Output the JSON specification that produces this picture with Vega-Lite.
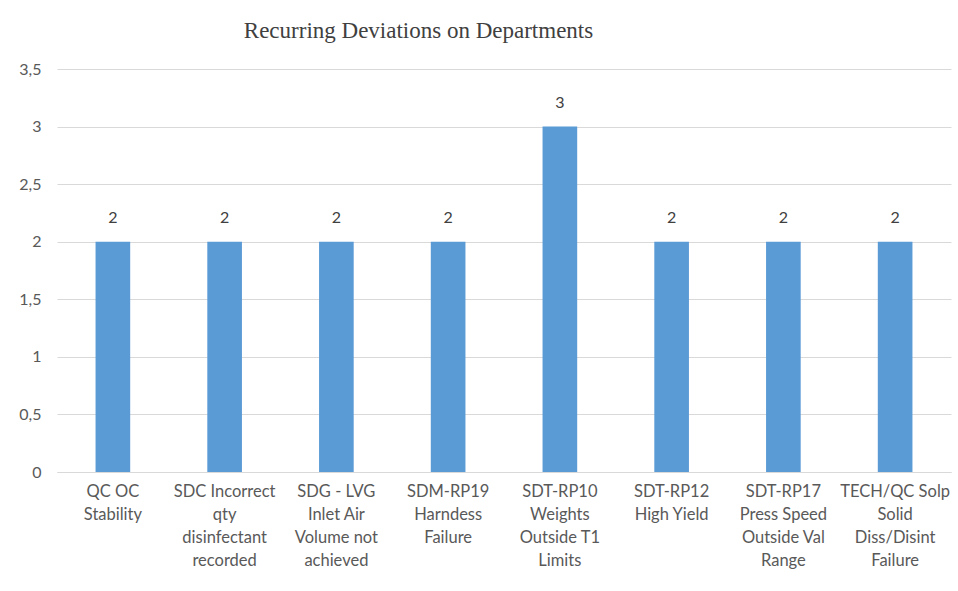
{
  "$schema": "https://vega.github.io/schema/vega-lite/v6.json",
  "width": 894,
  "height": 403,
  "autosize": {"type": "none"},
  "padding": {"left": 57, "top": 69, "right": 7, "bottom": 119},
  "background": "white",
  "title": {
    "text": "Recurring Deviations on Departments",
    "font": "Liberation Serif",
    "fontSize": 23,
    "fontWeight": "normal",
    "color": "#404040",
    "anchor": "start",
    "dx": 225,
    "offset": 18
  },
  "data": {
    "values": [
      {"cat": "QC OC|Stability", "count": 2},
      {"cat": "SDC Incorrect|qty|disinfectant|recorded", "count": 2},
      {"cat": "SDG - LVG|Inlet Air|Volume not|achieved", "count": 2},
      {"cat": "SDM-RP19|Harndess|Failure", "count": 2},
      {"cat": "SDT-RP10|Weights|Outside T1|Limits", "count": 3},
      {"cat": "SDT-RP12|High Yield", "count": 2},
      {"cat": "SDT-RP17|Press Speed|Outside Val|Range", "count": 2},
      {"cat": "TECH/QC Solp|Solid|Diss/Disint|Failure", "count": 2}
    ]
  },
  "encoding": {
    "x": {
      "field": "cat",
      "type": "nominal",
      "sort": null,
      "scale": {"paddingInner": 0.69, "paddingOuter": 0.345},
      "axis": {
        "title": null,
        "labelAngle": 0,
        "labelExpr": "split(datum.value, '|')",
        "labelFont": "Lato",
        "labelFontSize": 16.5,
        "labelColor": "#595959",
        "labelLineHeight": 23,
        "labelPadding": 11,
        "labelBaseline": "top",
        "ticks": false,
        "domainColor": "#d9d9d9",
        "domainWidth": 1
      }
    },
    "y": {
      "field": "count",
      "type": "quantitative",
      "scale": {"domain": [0, 3.5], "nice": false},
      "axis": {
        "title": null,
        "values": [0, 0.5, 1, 1.5, 2, 2.5, 3, 3.5],
        "labelExpr": "replace(format(datum.value, '~g'), '.', ',')",
        "labelFont": "Lato",
        "labelFontSize": 16,
        "labelColor": "#595959",
        "labelPadding": 16,
        "ticks": false,
        "domain": false,
        "gridColor": "#d9d9d9",
        "gridWidth": 1
      }
    }
  },
  "layer": [
    {"mark": {"type": "bar", "color": "#5B9BD5"}},
    {
      "mark": {"type": "text", "dy": -24, "font": "Lato", "fontSize": 16, "color": "#404040"},
      "encoding": {"text": {"field": "count", "type": "quantitative"}}
    }
  ],
  "config": {"view": {"stroke": null}}
}
